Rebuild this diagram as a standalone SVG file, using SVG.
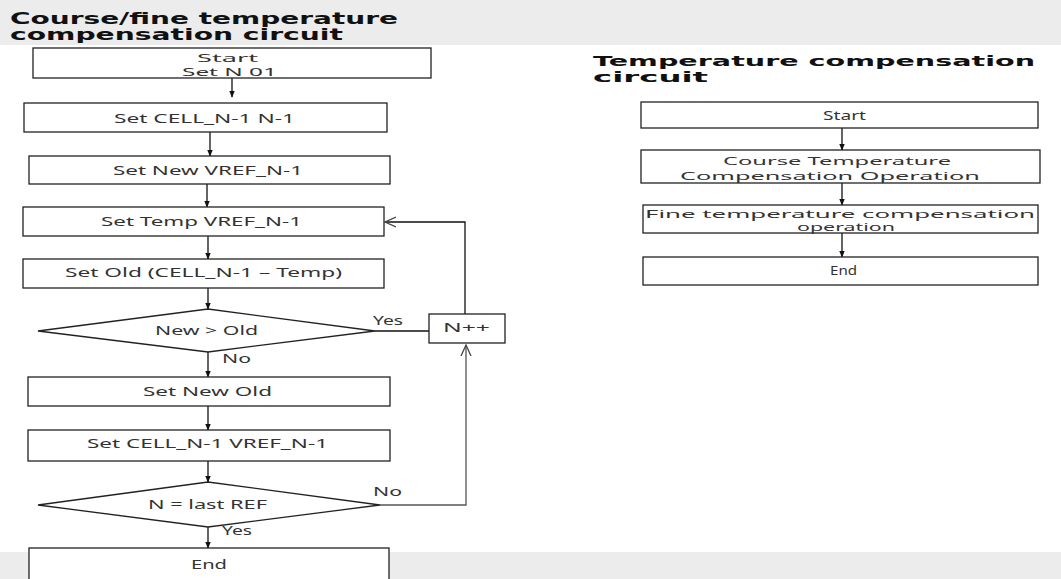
<svg xmlns="http://www.w3.org/2000/svg" width="1061" height="579" viewBox="0 0 1061 579">
<defs>
<marker id="ah" viewBox="0 0 10 10" refX="9" refY="5" markerWidth="7" markerHeight="7" orient="auto" markerUnits="userSpaceOnUse">
<path d="M0,1 L10,5 L0,9 Z" fill="#111"/>
</marker>
<marker id="oh" viewBox="0 0 12 12" refX="11" refY="6" markerWidth="12" markerHeight="12" orient="auto" markerUnits="userSpaceOnUse">
<path d="M0,1 L11,6 L0,11" fill="none" stroke="#444" stroke-width="1.3"/>
</marker>
</defs>
<style>
.box{fill:#fff;stroke:#222;stroke-width:1.3}
.t{font-family:"Noto Sans","Open Sans",sans-serif;font-size:13px;fill:#333}
.s{font-size:11.5px}
.h{font-family:"DejaVu Sans","Noto Sans",sans-serif;font-weight:bold;font-size:15.5px;fill:#111}
.h2{font-family:"DejaVu Sans","Noto Sans",sans-serif;font-weight:bold;font-size:14.5px;fill:#111}
.c{stroke:#111;stroke-width:1.3;fill:none}
.cg{stroke:#555;stroke-width:1.3;fill:none}
</style>
<rect x="0" y="0" width="1061" height="579" fill="#fff"/>
<rect x="0" y="0" width="1061" height="45" fill="#ececec"/>
<rect x="0" y="552" width="1061" height="27" fill="#ececec"/>
<g id="titles">
<text class="h" x="10" y="24" textLength="388" lengthAdjust="spacingAndGlyphs">Course/fine temperature</text>
<text class="h" x="10" y="40" textLength="333" lengthAdjust="spacingAndGlyphs">compensation circuit</text>
<text class="h2" x="593" y="66" textLength="442" lengthAdjust="spacingAndGlyphs">Temperature compensation</text>
<text class="h2" x="593" y="82" textLength="115" lengthAdjust="spacingAndGlyphs">circuit</text>
</g>
<g id="connectors">
<line class="c" x1="232" y1="78" x2="232" y2="97" marker-end="url(#ah)"/>
<line class="c" x1="210" y1="132" x2="210" y2="156" marker-end="url(#ah)"/>
<line class="c" x1="207" y1="184" x2="207" y2="207" marker-end="url(#ah)"/>
<line class="c" x1="208" y1="236" x2="208" y2="259" marker-end="url(#ah)"/>
<line class="c" x1="208" y1="288" x2="208" y2="309" marker-end="url(#ah)"/>
<line class="c" x1="208" y1="352" x2="208" y2="377" marker-end="url(#ah)"/>
<line class="c" x1="208" y1="406" x2="208" y2="430" marker-end="url(#ah)"/>
<line class="c" x1="208" y1="461" x2="208" y2="482" marker-end="url(#ah)"/>
<line class="c" x1="208" y1="527" x2="208" y2="548" marker-end="url(#ah)"/>
<line class="c" x1="375" y1="331" x2="429" y2="331"/>
<polyline class="c" points="465,314 465,222 385,222" marker-end="url(#oh)"/>
<polyline class="cg" points="380,505 466,505 466,345" marker-end="url(#oh)"/>
<line class="c" x1="842" y1="128" x2="842" y2="150" marker-end="url(#ah)"/>
<line class="c" x1="842" y1="183" x2="842" y2="205" marker-end="url(#ah)"/>
<line class="c" x1="842" y1="233" x2="842" y2="257" marker-end="url(#ah)"/>
<text class="t" x="373" y="325" textLength="30" lengthAdjust="spacingAndGlyphs">Yes</text>
<text class="t" x="222" y="363" textLength="29" lengthAdjust="spacingAndGlyphs">No</text>
<text class="t" x="373" y="496" textLength="29" lengthAdjust="spacingAndGlyphs">No</text>
<text class="t" x="222" y="535" textLength="30" lengthAdjust="spacingAndGlyphs">Yes</text>
</g>
<g id="n-start">
<rect class="box" x="33" y="48" width="398" height="30"/>
<text class="t s" x="197" y="62" textLength="61" lengthAdjust="spacingAndGlyphs">Start</text>
<text class="t s" x="182" y="76" textLength="95" lengthAdjust="spacingAndGlyphs">Set N 01</text>
</g>
<g id="n-cell">
<rect class="box" x="24" y="103" width="363" height="29"/>
<text class="t" x="114" y="123" textLength="181" lengthAdjust="spacingAndGlyphs">Set CELL_N-1 N-1</text>
</g>
<g id="n-new">
<rect class="box" x="29" y="156" width="361" height="28"/>
<text class="t" x="113" y="175" textLength="190" lengthAdjust="spacingAndGlyphs">Set New VREF_N-1</text>
</g>
<g id="n-temp">
<rect class="box" x="23" y="207" width="361" height="29"/>
<text class="t" x="101" y="226" textLength="201" lengthAdjust="spacingAndGlyphs">Set Temp VREF_N-1</text>
</g>
<g id="n-old">
<rect class="box" x="23" y="259" width="361" height="29"/>
<text class="t" x="65" y="277" textLength="277" lengthAdjust="spacingAndGlyphs">Set Old (CELL_N-1 – Temp)</text>
</g>
<g id="n-cmp1">
<polygon class="box" points="38,331 208,309 375,331 208,352"/>
<text class="t" x="155" y="335" textLength="103" lengthAdjust="spacingAndGlyphs">New &gt; Old</text>
</g>
<g id="n-inc">
<rect class="box" x="429" y="314" width="76" height="29"/>
<text class="t" x="443" y="332" textLength="47" lengthAdjust="spacingAndGlyphs">N++</text>
</g>
<g id="n-setnew">
<rect class="box" x="28" y="377" width="362" height="29"/>
<text class="t" x="143" y="396" textLength="129" lengthAdjust="spacingAndGlyphs">Set New Old</text>
</g>
<g id="n-setcell">
<rect class="box" x="28" y="430" width="362" height="31"/>
<text class="t" x="87" y="448" textLength="241" lengthAdjust="spacingAndGlyphs">Set CELL_N-1 VREF_N-1</text>
</g>
<g id="n-cmp2">
<polygon class="box" points="38,505 208,482 380,505 208,527"/>
<text class="t" x="148" y="509" textLength="119" lengthAdjust="spacingAndGlyphs">N = last REF</text>
</g>
<g id="n-end">
<rect class="box" x="29" y="548" width="360" height="40"/>
<text class="t" x="191" y="569" textLength="36" lengthAdjust="spacingAndGlyphs">End</text>
</g>
<g id="r-start">
<rect class="box" x="641" y="102" width="397" height="26"/>
<text class="t" x="823" y="120" textLength="43" lengthAdjust="spacingAndGlyphs">Start</text>
</g>
<g id="r-course">
<rect class="box" x="641" y="150" width="399" height="33"/>
<text class="t s" x="723" y="165" textLength="228" lengthAdjust="spacingAndGlyphs">Course Temperature</text>
<text class="t s" x="680" y="180" textLength="300" lengthAdjust="spacingAndGlyphs">Compensation Operation</text>
</g>
<g id="r-fine">
<rect class="box" x="643" y="205" width="395" height="28"/>
<text class="t s" x="645" y="218" textLength="390" lengthAdjust="spacingAndGlyphs">Fine temperature compensation</text>
<text class="t s" x="797" y="231" textLength="98" lengthAdjust="spacingAndGlyphs">operation</text>
</g>
<g id="r-end">
<rect class="box" x="643" y="257" width="395" height="28"/>
<text class="t" x="830" y="275" textLength="27" lengthAdjust="spacingAndGlyphs">End</text>
</g>
</svg>
